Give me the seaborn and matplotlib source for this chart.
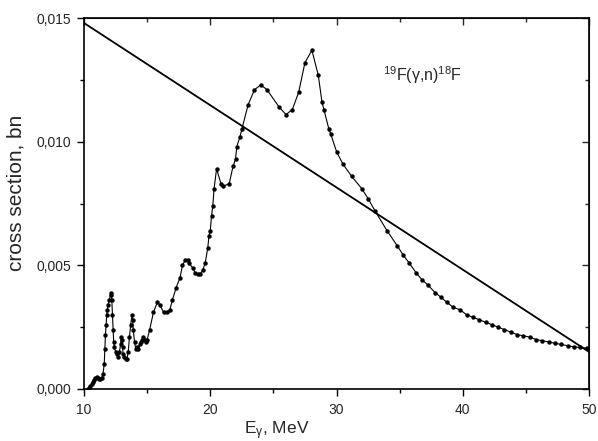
import numpy as np
import pandas as pd
import seaborn as sns
import matplotlib
matplotlib.use('Agg')
import matplotlib.pyplot as plt
from matplotlib.ticker import MultipleLocator, FuncFormatter

# photoneutron cross section 19F(g,n)18F
energy = [10.3, 10.4, 10.5, 10.6, 10.7, 10.8, 10.9, 11.0, 11.1, 11.2, 11.3, 11.4, 11.5, 11.6,
          11.65, 11.7, 11.75, 11.8, 11.85, 11.9, 12.0, 12.1, 12.15, 12.2, 12.25, 12.3, 12.35,
          12.4, 12.5, 12.6, 12.7, 12.8, 12.9, 12.95, 13.0, 13.05, 13.1, 13.2, 13.3, 13.4, 13.5,
          13.6, 13.7, 13.8, 13.85, 13.9, 14.0, 14.1, 14.2, 14.3, 14.4, 14.5, 14.6, 14.7, 14.8,
          14.9, 15.0, 15.2, 15.5, 15.8, 16.0, 16.3, 16.6, 16.8, 17.0, 17.3, 17.6, 17.8, 18.0,
          18.2, 18.3, 18.6, 18.8, 19.0, 19.2, 19.4, 19.6, 19.8, 19.9, 20.0, 20.1, 20.2, 20.3,
          20.5, 20.85, 21.0, 21.5, 21.8, 22.0, 22.1, 22.35, 22.5, 23.0, 23.5, 24.0, 24.5, 25.45,
          26.0, 26.5, 27.0, 27.5, 28.05, 28.55, 28.85, 29.0, 29.4, 29.55, 30.0, 30.5, 31.2, 32.0,
          32.5, 33.05, 34.0, 34.8, 35.3, 35.75, 36.3, 36.8, 37.25, 37.8, 38.3, 38.75, 39.25,
          39.8, 40.3, 40.8, 41.3, 41.8, 42.3, 42.8, 43.3, 43.8, 44.3, 44.8, 45.3, 45.8, 46.3,
          46.8, 47.3, 47.8, 48.3, 48.8, 49.3, 49.8]
sigma = [0.0, 0.00005, 0.0001, 0.0002, 0.0003, 0.00038, 0.00045, 0.00048, 0.00045, 0.00042,
         0.00042, 0.00045, 0.0006, 0.0010, 0.0016, 0.0022, 0.0026, 0.0030, 0.0032, 0.0034,
         0.0036, 0.0038, 0.0039, 0.0036, 0.0030, 0.0024, 0.0019, 0.0017, 0.0015, 0.0014,
         0.0013, 0.0015, 0.0018, 0.0021, 0.0020, 0.0017, 0.0014, 0.0013, 0.0012, 0.0012,
         0.0015, 0.0021, 0.0026, 0.0030, 0.0028, 0.0024, 0.0019, 0.0016, 0.0017, 0.0016,
         0.0018, 0.0019, 0.0020, 0.0021, 0.0020, 0.0019, 0.0020, 0.0024, 0.0031, 0.0035,
         0.0034, 0.0031, 0.0031, 0.0032, 0.0036, 0.0041, 0.0045, 0.0050, 0.0052, 0.0052,
         0.0051, 0.0049, 0.0047, 0.00465, 0.00465, 0.0048, 0.0051, 0.0057, 0.0062, 0.0064,
         0.0070, 0.0074, 0.0081, 0.0089, 0.0083, 0.0082, 0.0083, 0.0090, 0.0093, 0.0098,
         0.0102, 0.0105, 0.0115, 0.0121, 0.0123, 0.0121, 0.0114, 0.0111, 0.0113, 0.0120,
         0.0132, 0.0137, 0.0127, 0.0116, 0.0113, 0.0105, 0.0103, 0.0096, 0.0091, 0.0086,
         0.0081, 0.0077, 0.0072, 0.0064, 0.0058, 0.0054, 0.0051, 0.0047, 0.0044, 0.0042,
         0.0039, 0.0037, 0.0035, 0.0033, 0.0032, 0.0030, 0.0029, 0.0028, 0.0027, 0.0026,
         0.0025, 0.0024, 0.0023, 0.0022, 0.00215, 0.0021, 0.0020, 0.00195, 0.0019, 0.00185,
         0.0018, 0.00175, 0.0017, 0.00168, 0.00165]

# straight line across the plot
line_e = [10, 50]
line_sigma = [0.0148, 0.0015]

sns.set_style('ticks')
plt.rcParams['font.family'] = ['Liberation Sans', 'DejaVu Sans']
plt.rcParams['mathtext.fontset'] = 'custom'
plt.rcParams['mathtext.rm'] = 'Liberation Sans'
plt.rcParams['mathtext.it'] = 'Liberation Sans'

fig = plt.figure(figsize=(5.98, 4.41), dpi=100)
ax = fig.add_axes([0.1405, 0.118, 0.8445, 0.841])

df = pd.DataFrame({'E': energy, 'sigma': sigma})
sns.lineplot(data=df, x='E', y='sigma', ax=ax, color='black', linewidth=0.8,
             marker='o', markersize=3.2, markeredgewidth=0, sort=False)
sns.lineplot(x=line_e, y=line_sigma, ax=ax, color='black', linewidth=1.3)

ax.set_xlim(10, 50)
ax.set_ylim(0, 0.015)
ax.xaxis.set_major_locator(MultipleLocator(10))
ax.xaxis.set_minor_locator(MultipleLocator(5))
ax.yaxis.set_major_locator(MultipleLocator(0.005))
ax.yaxis.set_minor_locator(MultipleLocator(0.0025))
ax.yaxis.set_major_formatter(FuncFormatter(lambda v, p: f'{v:.3f}'.replace('.', ',')))
ax.tick_params(which='major', direction='out', length=5, width=1, labelsize=10, color='black')
ax.tick_params(axis='x', which='major', pad=5)
ax.tick_params(axis='y', which='major', pad=4)
ax.tick_params(which='minor', direction='out', length=3, width=1, color='black')
for s in ax.spines.values():
    s.set_linewidth(1.2)
    s.set_color('black')

top = ax.secondary_xaxis('top')
top.xaxis.set_major_locator(MultipleLocator(10))
top.xaxis.set_minor_locator(MultipleLocator(5))
top.tick_params(which='major', direction='in', length=5, width=1, labeltop=False)
top.tick_params(which='minor', direction='in', length=3, width=1)
right = ax.secondary_yaxis('right')
right.yaxis.set_major_locator(MultipleLocator(0.005))
right.yaxis.set_minor_locator(MultipleLocator(0.0025))
right.tick_params(which='major', direction='in', length=5, width=1, labelright=False)
right.tick_params(which='minor', direction='in', length=3, width=1)

ax.set_xlabel(r'E$_\gamma$, MeV', fontsize=12.5)
ax.xaxis.set_label_coords(0.382, -0.082)
ax.set_ylabel('cross section, bn', fontsize=15)
ax.yaxis.set_label_coords(-0.115, 0.528)
ax.text(33.7, 0.0127, r'$^{19}$F($\gamma$,n)$^{18}$F', fontsize=11.5, va='center')

fig.savefig('out.png', dpi=100, facecolor='white')
